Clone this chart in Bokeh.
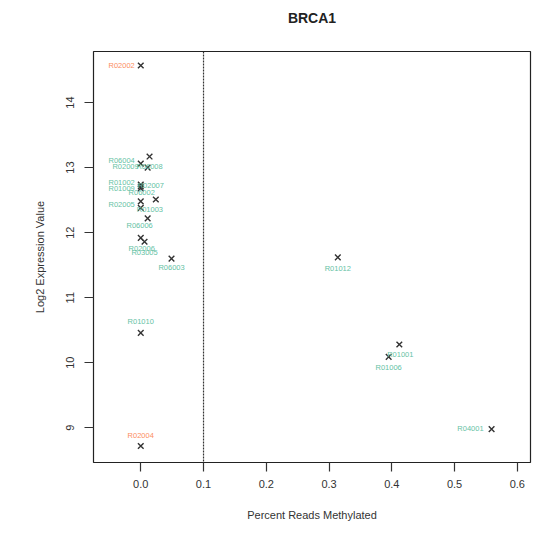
from bokeh.plotting import figure
from bokeh.models import ColumnDataSource, LabelSet, Span, FixedTicker, PrintfTickFormatter, Title
from bokeh.core.properties import value
from bokeh.embed import file_html
from bokeh.resources import INLINE

# ---- data ----
title_text = "BRCA1"
samples = ["R02002", "R06004", "R06008", "R02009", "R01002", "R01009", "R06002",
           "R02007", "R02005", "R01003", "R06006", "R02006", "R03005", "R06003",
           "R01010", "R02004", "R01012", "R01001", "R01006", "R04001"]
pct_methylated = [0.000, 0.000, 0.014, 0.011, 0.000, 0.000, 0.000,
                  0.024, 0.000, 0.000, 0.011, 0.000, 0.006, 0.049,
                  0.000, 0.000, 0.314, 0.412, 0.395, 0.559]
log2_expr = [14.57, 13.06, 13.17, 13.00, 12.74, 12.68, 12.71,
             12.51, 12.48, 12.38, 12.22, 11.92, 11.86, 11.60,
             10.46, 8.72, 11.62, 10.28, 10.09, 8.98]
group = ["B", "A", "A", "A", "A", "A", "A",
         "A", "A", "A", "A", "A", "A", "A",
         "A", "B", "A", "A", "A", "A"]
x_ticks = [0.0, 0.1, 0.2, 0.3, 0.4, 0.5, 0.6]
y_ticks = [9, 10, 11, 12, 13, 14]
threshold = 0.1

# ---- label placement (style) ----
lab_align = ["right", "right", "center", "right", "right", "right", "center",
             "center", "right", "left", "center", "center", "center", "center",
             "center", "center", "center", "center", "center", "right"]
lab_dx = [-6, -6, 0, -9, -6, -6, 1, -5, -6, -4, -8, 1, 0, 0, 0, 0, 0, 1, 0, -8]
lab_dy = [0, 3, -10, 1, 2, 0, -6, 14, -3, -2, -7, -11, -11, -9, 11, 10, -11, -10, -11, 1]
colors = {"A": "#66c2a5", "B": "#fc8d62"}

src = ColumnDataSource(dict(x=pct_methylated, y=log2_expr, name=samples,
                            col=[colors[g] for g in group], align=lab_align,
                            dx=lab_dx, dy=lab_dy))

X0, X1 = -0.0753, 0.621
Y0, Y1 = 8.466, 14.785
p = figure(width=540, height=533, x_range=(X0, X1), y_range=(Y0, Y1),
           output_backend="svg", toolbar_location=None,
           min_border_left=93, min_border_right=10, min_border_top=51, min_border_bottom=71,
           title=title_text)
p.background_fill_color = "white"
p.border_fill_color = "white"
p.grid.visible = False
p.outline_line_color = "#222222"
p.outline_line_width = 1.2

p.title.align = "center"
p.title.text_font = "Liberation Sans"
p.title.text_font_size = "14px"
p.title.text_font_style = "bold"
p.title.text_color = "#222222"

# invisible spacer between title and frame
p.add_layout(Title(text=" ", text_font_size="17px", standoff=0), "above")

for ax in (p.xaxis[0], p.yaxis[0]):
    ax.axis_line_color = None
    ax.major_tick_out = 9
    ax.major_tick_in = 0
    ax.minor_tick_out = 0
    ax.minor_tick_in = 0
    ax.major_tick_line_color = "#333333"
    ax.major_tick_line_width = 1.2
    ax.major_label_text_font = "Liberation Sans"
    ax.major_label_text_font_size = "11px"
    ax.major_label_text_color = "#333333"
    ax.axis_label_text_font = "Liberation Sans"
    ax.axis_label_text_font_size = "11px"
    ax.axis_label_text_font_style = "normal"
    ax.axis_label_text_color = "#333333"

p.xaxis.ticker = FixedTicker(ticks=x_ticks)
p.xaxis.formatter = PrintfTickFormatter(format="%.1f")
p.xaxis.major_label_standoff = 8
p.xaxis.axis_label = "Percent Reads Methylated"
p.xaxis.axis_label_standoff = 18

p.yaxis.ticker = FixedTicker(ticks=y_ticks)
p.yaxis.major_label_orientation = "vertical"
p.yaxis.major_label_standoff = 10
p.yaxis.axis_label = "Log2 Expression Value"
p.yaxis.axis_label_standoff = 18

p.add_layout(Span(location=threshold, dimension="height", line_color="#333333",
                  line_dash="2 1", line_width=1.2))

p.scatter("x", "y", source=src, marker="x", size=8, line_color="#333333", line_width=1.4)

labels = LabelSet(x="x", y="y", text="name", source=src, x_offset="dx", y_offset="dy",
                  text_align="align", text_baseline="middle", text_color="col",
                  text_font=value("Liberation Sans"), text_font_size=value("7.5px"))
p.add_layout(labels)

open("out.html", "w").write(file_html(p, INLINE))
